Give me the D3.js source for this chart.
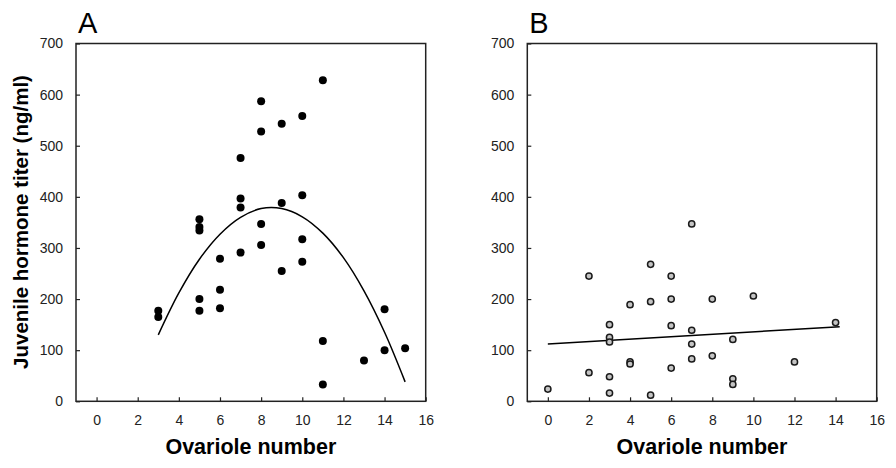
<!DOCTYPE html>
<html>
<head>
<meta charset="utf-8">
<script src="https://cdn.jsdelivr.net/npm/d3@7"></script>
<style>
  html, body { margin: 0; padding: 0; background: #fff; }
  svg { display: block; }
  text { font-family: "Liberation Sans", Arial, sans-serif; }
</style>
</head>
<body>
<svg id="chart" width="896" height="468"></svg>
<script>
// ---- Data ----
const panelLabels = ["A", "B"];
const xTicks = [0, 2, 4, 6, 8, 10, 12, 14, 16];
const yTicks = [0, 100, 200, 300, 400, 500, 600, 700];
const yTitle = "Juvenile hormone titer (ng/ml)";
const xTitle = "Ovariole number";

// Panel A: ovariole number vs JH titer
const aX = [3,3,5,5,5,5,5,6,6,6,7,7,7,7,8,8,8,8,9,9,9,10,10,10,10,11,11,11,13,14,14,15];
const aY = [177,165,356,341,334,200,177,279,218,182,476,397,379,291,587,528,347,306,543,388,255,558,403,317,273,628,118,33,80,180,100,104];
// Panel A fitted quadratic curve
const aFitX = [3,4,5,6,7,8,9,10,11,12,13,14,15];
const aFitY = [130,212,278,327,360,377,377,361,329,281,216,135,38];

// Panel B
const bX = [0,2,2,3,3,3,3,3,4,4,4,5,5,5,6,6,6,6,7,7,7,7,8,8,9,9,9,10,12,14];
const bY = [24,245,56,150,125,116,48,16,189,77,73,268,195,12,245,200,148,65,347,139,112,83,200,89,121,44,33,206,77,154];
// Panel B fitted line endpoints
const bFitX = [0, 14.2];
const bFitY = [112, 146];

// ---- Drawing ----
const svg = d3.select("#chart");
const yRange = [401.3, 43.5];
const panels = [
  { label: panelLabels[0], x0: 76, x1: 425.7, xs: aX, ys: aY, fx: aFitX, fy: aFitY, filled: true, curve: d3.curveCatmullRom },
  { label: panelLabels[1], x0: 527.3, x1: 876.7, xs: bX, ys: bY, fx: bFitX, fy: bFitY, filled: false, curve: d3.curveLinear }
];

panels.forEach((p, i) => {
  const x = d3.scaleLinear().domain([-1, 16]).range([p.x0, p.x1]);
  const y = d3.scaleLinear().domain([0, 700]).range(yRange);
  const g = svg.append("g");

  // x axis
  const xa = g.append("g")
    .attr("transform", `translate(0,${yRange[0]})`)
    .call(d3.axisBottom(x).tickValues(xTicks).tickSizeInner(-4).tickSizeOuter(0).tickPadding(14));
  // y axis
  const ya = g.append("g")
    .attr("transform", `translate(${p.x0},0)`)
    .call(d3.axisLeft(y).tickValues(yTicks).tickSizeInner(-4).tickSizeOuter(0).tickPadding(13));
  [xa, ya].forEach(a => {
    a.select(".domain").remove();
    a.selectAll("line").attr("stroke", "#222").attr("stroke-width", 1.2);
    a.selectAll("text").attr("font-size", 14).attr("fill", "#222")
      .attr("font-family", "'Liberation Sans', Arial, sans-serif");
  });

  // frame
  g.append("rect")
    .attr("x", p.x0).attr("y", yRange[1])
    .attr("width", p.x1 - p.x0).attr("height", yRange[0] - yRange[1])
    .attr("fill", "none").attr("stroke", "#222").attr("stroke-width", 1.5);

  // fit
  const line = d3.line().x(d => x(d[0])).y(d => y(d[1])).curve(p.curve);
  g.append("path")
    .datum(p.fx.map((v, k) => [v, p.fy[k]]))
    .attr("d", line)
    .attr("fill", "none").attr("stroke", "#000").attr("stroke-width", 1.5);

  // points
  g.selectAll("circle.pt")
    .data(p.xs.map((v, k) => [v, p.ys[k]]))
    .join("circle")
    .attr("class", "pt")
    .attr("cx", d => x(d[0])).attr("cy", d => y(d[1]))
    .attr("r", p.filled ? 4 : 3.1)
    .attr("fill", p.filled ? "#000" : "#c4c4c4")
    .attr("stroke", p.filled ? "none" : "#1a1a1a")
    .attr("stroke-width", p.filled ? 0 : 1.5);

  // panel label
  g.append("text")
    .attr("x", p.x0 + 2).attr("y", 33)
    .attr("font-size", 29).attr("fill", "#000")
    .text(p.label);

  // x title
  g.append("text")
    .attr("x", (p.x0 + p.x1) / 2).attr("y", 454)
    .attr("text-anchor", "middle")
    .attr("font-size", 21.5).attr("font-weight", "bold")
    .text(xTitle);
});

// y title (panel A only)
svg.append("text")
  .attr("transform", "translate(28,222) rotate(-90)")
  .attr("text-anchor", "middle")
  .attr("font-size", 20.5).attr("font-weight", "bold")
  .text(yTitle);
</script>
</body>
</html>
